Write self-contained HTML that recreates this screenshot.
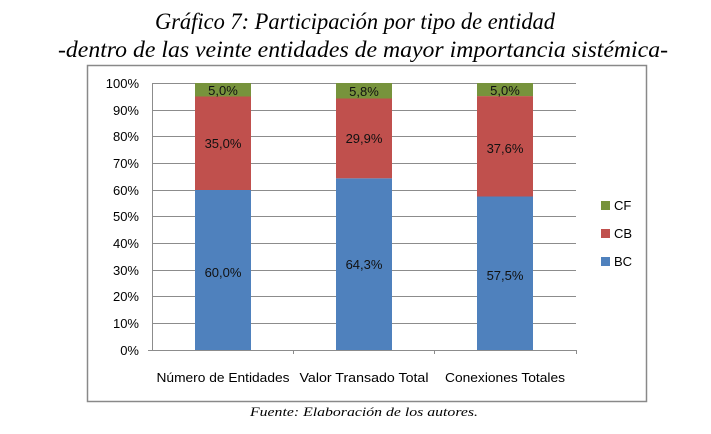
<!DOCTYPE html>
<html><head><meta charset="utf-8"><style>
html,body{margin:0;padding:0;background:#fff;width:711px;height:434px;overflow:hidden}
</style></head><body>
<svg width="711" height="434" xmlns="http://www.w3.org/2000/svg" font-family="Liberation Sans, sans-serif">
<rect width="711" height="434" fill="#fff"/>
<g font-family="Liberation Serif, serif" font-style="italic" fill="#000">
<text x="355" y="29" font-size="23" text-anchor="middle" textLength="400" lengthAdjust="spacingAndGlyphs">Gráfico 7: Participación por tipo de entidad</text>
<text x="363" y="57" font-size="23" text-anchor="middle" textLength="610" lengthAdjust="spacingAndGlyphs">-dentro de las veinte entidades de mayor importancia sistémica-</text>
<text x="364" y="416" font-size="13" text-anchor="middle" textLength="228" lengthAdjust="spacingAndGlyphs">Fuente: Elaboración de los autores.</text>
</g>
<rect x="87.5" y="65.5" width="559" height="336" fill="none" stroke="#898989" stroke-width="1.5"/>
<g stroke="#8c8c8c" stroke-width="1">
<line x1="152" y1="83.5" x2="576" y2="83.5"/><line x1="152" y1="110.5" x2="576" y2="110.5"/>
<line x1="152" y1="136.5" x2="576" y2="136.5"/><line x1="152" y1="163.5" x2="576" y2="163.5"/>
<line x1="152" y1="190.5" x2="576" y2="190.5"/><line x1="152" y1="216.5" x2="576" y2="216.5"/>
<line x1="152" y1="243.5" x2="576" y2="243.5"/><line x1="152" y1="270.5" x2="576" y2="270.5"/>
<line x1="152" y1="296.5" x2="576" y2="296.5"/><line x1="152" y1="323.5" x2="576" y2="323.5"/>
<line x1="152.5" y1="83" x2="152.5" y2="350"/>
<line x1="148" y1="350.5" x2="576" y2="350.5"/>
<line x1="293.5" y1="350" x2="293.5" y2="354"/><line x1="434.5" y1="350" x2="434.5" y2="354"/><line x1="576.5" y1="350" x2="576.5" y2="354"/>
</g>
<g font-size="13" fill="#000" text-anchor="end">
<text x="139" y="88">100%</text><text x="139" y="115">90%</text><text x="139" y="141">80%</text>
<text x="139" y="168">70%</text><text x="139" y="195">60%</text><text x="139" y="221">50%</text>
<text x="139" y="248">40%</text><text x="139" y="275">30%</text><text x="139" y="301">20%</text>
<text x="139" y="328">10%</text><text x="139" y="355">0%</text>
</g>
<rect x="195" y="190" width="56" height="160" fill="#4f81bd"/>
<rect x="195" y="96.5" width="56" height="93.5" fill="#c0504d"/>
<rect x="195" y="83" width="56" height="13.5" fill="#77933c"/>
<rect x="336" y="178.3" width="56" height="171.7" fill="#4f81bd"/>
<rect x="336" y="98.5" width="56" height="79.8" fill="#c0504d"/>
<rect x="336" y="83" width="56" height="15.5" fill="#77933c"/>
<rect x="477" y="196.5" width="56" height="153.5" fill="#4f81bd"/>
<rect x="477" y="96.1" width="56" height="100.4" fill="#c0504d"/>
<rect x="477" y="83" width="56" height="13.1" fill="#77933c"/>
<g font-size="13" fill="#111" text-anchor="middle">
<text x="223" y="95">5,0%</text><text x="223" y="148">35,0%</text><text x="223" y="277">60,0%</text>
<text x="364" y="96">5,8%</text><text x="364" y="143">29,9%</text><text x="364" y="269">64,3%</text>
<text x="505" y="95">5,0%</text><text x="505" y="153">37,6%</text><text x="505" y="280">57,5%</text>
</g>
<g font-size="13" fill="#000">
<text x="223" y="382" text-anchor="middle" textLength="133" lengthAdjust="spacingAndGlyphs">Número de Entidades</text>
<text x="364" y="382" text-anchor="middle" textLength="129" lengthAdjust="spacingAndGlyphs">Valor Transado Total</text>
<text x="505" y="382" text-anchor="middle" textLength="120" lengthAdjust="spacingAndGlyphs">Conexiones Totales</text>
<rect x="601" y="201" width="9" height="9" fill="#77933c"/><text x="614" y="210">CF</text>
<rect x="601" y="229" width="9" height="9" fill="#c0504d"/><text x="614" y="238">CB</text>
<rect x="601" y="257" width="9" height="9" fill="#4f81bd"/><text x="614" y="266">BC</text>
</g>
</svg>
</body></html>
